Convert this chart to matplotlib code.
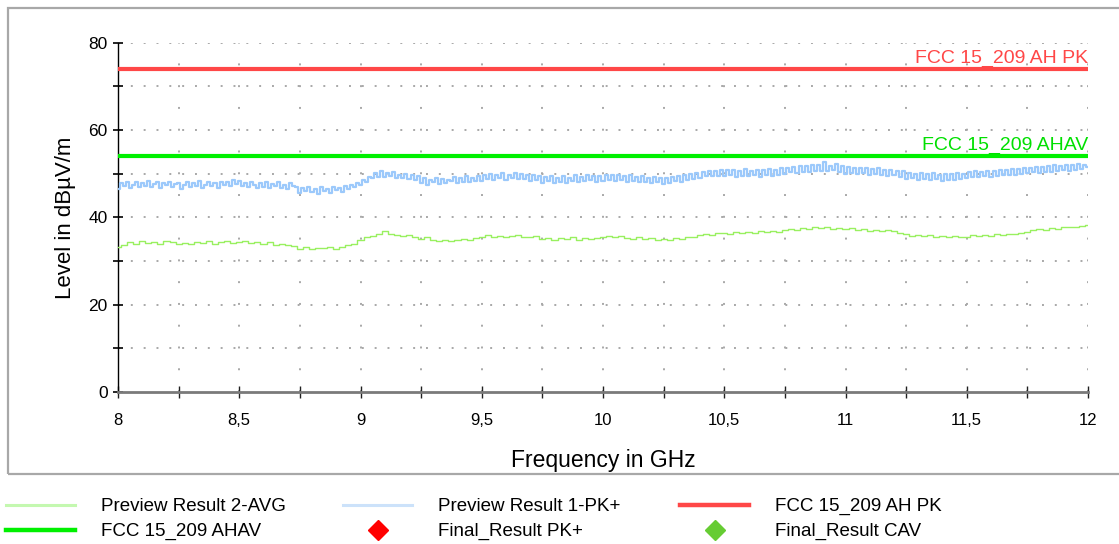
import numpy as np
import matplotlib
matplotlib.use("Agg")
import matplotlib.pyplot as plt
from matplotlib.lines import Line2D
from matplotlib.patches import Rectangle

plt.rcParams['font.family'] = ['Liberation Sans', 'DejaVu Sans']

# ---------------- data ----------------
f_start, f_stop = 8.0, 12.0

pk_values = [
    46.6, 47.9, 47.2, 48.1, 46.8, 47.5, 48.2, 46.9, 47.8, 47.1, 48.3, 47.0, 47.6, 48.0, 46.7, 47.9, 47.3, 48.2, 46.9, 47.7,
    47.9, 46.6, 47.4, 48.1, 46.9, 47.8, 47.2, 48.4, 46.7, 47.5, 48.0, 47.1, 47.8, 46.8, 48.2, 47.4, 48.0, 47.2, 48.5, 47.6,
    48.3, 47.1, 47.9, 46.9, 48.1, 47.3, 46.8, 47.9, 47.0, 48.0, 46.7, 47.6, 47.2, 48.1, 46.8, 47.5, 46.6, 47.8, 47.2, 46.9,
    45.6, 46.8, 46.1, 47.0, 45.7, 46.5, 45.4, 46.9, 46.0, 46.6, 45.5, 46.9, 46.2, 46.7, 45.8, 47.1, 46.4, 47.3, 46.9, 47.8,
    47.5, 48.6, 48.2, 49.3, 49.0, 50.1, 49.3, 50.6, 49.2, 50.2, 49.4, 50.4, 48.9, 49.8, 49.1, 50.0, 48.7, 49.6, 48.5, 49.5,
    47.8, 48.9, 47.5, 48.6, 48.1, 49.0, 47.6, 48.8, 47.9, 48.5, 48.3, 49.2, 47.8, 49.0, 48.2, 49.4, 48.0, 48.9, 48.4, 49.5,
    48.4, 49.6, 48.7, 50.0, 48.6, 49.7, 48.9, 50.2, 48.5, 49.8, 49.0, 50.1, 48.7, 49.9, 48.8, 49.6, 48.4, 49.7, 48.6, 49.4,
    47.9, 49.2, 48.3, 49.4, 47.8, 48.9, 48.2, 49.5, 47.9, 49.0, 48.4, 49.6, 48.1, 49.3, 48.3, 49.6, 48.5, 49.4, 48.2, 49.5,
    48.4, 49.8, 48.6, 49.6, 48.3, 49.7, 48.5, 49.4, 48.2, 49.6, 48.4, 49.3, 48.0, 49.4, 48.2, 49.1, 47.8, 49.2, 48.0, 49.0,
    47.6, 48.9, 47.9, 49.2, 48.3, 49.5, 48.1, 49.7, 48.6, 49.9, 48.8, 50.1, 49.1, 50.4, 49.4, 50.6, 49.5, 50.7, 49.4, 50.8,
    49.4, 50.8, 49.6, 50.9, 49.3, 50.7, 49.5, 51.0, 49.4, 50.6, 49.7, 50.9, 49.3, 50.8, 49.6, 51.1, 49.5, 50.9, 49.8, 51.2,
    50.0, 51.3, 50.3, 51.6, 50.2, 51.8, 50.5, 51.7, 50.4, 52.0, 50.6, 51.9, 50.7, 52.7, 50.6, 51.8, 50.9, 52.2, 50.5, 51.7,
    50.0, 51.5, 50.2, 51.3, 49.9, 51.4, 50.1, 51.2, 49.7, 51.0, 49.9, 51.2, 49.6, 50.9, 49.5, 50.8, 49.7, 50.7, 49.3, 50.6,
    48.8, 50.2, 48.9, 50.0, 48.6, 50.1, 48.8, 49.9, 48.5, 50.2, 48.7, 49.8, 48.4, 50.0, 48.6, 49.9, 48.5, 50.1, 48.8, 50.0,
    49.1, 50.4, 49.3, 50.6, 49.2, 50.5, 49.4, 50.7, 49.3, 50.6, 49.5, 50.9, 49.6, 50.8, 49.7, 51.0, 49.8, 51.1, 49.9, 51.2,
    50.1, 51.4, 50.3, 51.6, 50.2, 51.5, 50.4, 51.7, 50.5, 51.9, 50.6, 51.8, 50.8, 52.1, 50.7, 52.0, 50.9, 52.2, 51.0, 52.1,
    51.6,
]

avg_values = [
    33.3, 33.7, 34.3, 34.0, 34.5, 34.2, 34.4, 34.0, 34.5, 34.3,
    33.9, 34.2, 33.8, 34.4, 34.1, 34.5, 34.0, 34.3, 34.6, 34.2,
    34.3, 34.6, 34.2, 34.4, 34.0, 34.3, 33.6, 33.9, 33.7, 33.4,
    32.8, 33.1, 32.7, 33.0, 32.9, 33.2, 32.8, 33.3, 33.6, 34.0,
    34.8, 35.4, 35.8, 36.3, 36.8, 36.2, 36.0, 35.7, 35.9, 35.4,
    35.1, 35.4, 34.8, 34.6, 34.9, 34.5, 34.8, 35.1, 34.9, 35.2,
    35.5, 35.9, 35.6, 35.8, 35.5, 35.7, 35.9, 35.6, 35.4, 35.7,
    35.0, 35.3, 34.9, 35.2, 35.0, 35.4, 34.9, 35.2, 35.0, 35.3,
    35.6, 35.8, 35.5, 35.7, 35.3, 35.1, 35.4, 35.0, 35.2, 34.9,
    35.1, 34.9, 35.3, 35.0, 35.4, 35.6, 35.9, 36.2, 36.0, 36.4,
    36.5, 36.3, 36.6, 36.4, 36.7, 36.5, 36.8, 36.6, 36.9, 36.7,
    37.1, 37.4, 37.2, 37.6, 37.3, 37.8, 37.5, 37.9, 37.4, 37.6,
    37.3, 37.5, 37.1, 37.3, 36.9, 37.2, 36.8, 37.0, 36.8, 36.5,
    36.1, 35.8, 36.0, 35.7, 35.9, 35.6, 35.8, 35.5, 35.7, 35.4,
    35.6, 35.9, 35.7, 36.0, 35.8, 36.1, 36.0, 36.3, 36.1, 36.5,
    36.7, 37.0, 37.3, 37.1, 37.5, 37.4, 37.7, 37.9, 37.8, 38.1,
    38.3,
]

limit_pk = 74.0
limit_av = 54.0
limit_pk_label = "FCC 15_209 AH PK"
limit_av_label = "FCC 15_209 AHAV"

x_major = [8, 8.5, 9, 9.5, 10, 10.5, 11, 11.5, 12]
x_major_labels = ["8", "8,5", "9", "9,5", "10", "10,5", "11", "11,5", "12"]
x_minor = [8.25, 8.75, 9.25, 9.75, 10.25, 10.75, 11.25, 11.75]
y_major = [0, 20, 40, 60, 80]
y_minor = [10, 30, 50, 70]

legend_labels = ["Preview Result 2-AVG", "FCC 15_209 AHAV",
                 "Preview Result 1-PK+", "Final_Result PK+",
                 "FCC 15_209 AH PK", "Final_Result CAV"]

# ---------------- colours ----------------
c_pk_trace = "#9cc9fb"
c_avg_trace = "#99f060"
c_lim_pk = "#ff4747"
c_lim_av = "#00f000"
c_final_pk = "#ff0000"
c_final_cav = "#66cc33"

# ---------------- figure ----------------
W, H = 1119, 544
fig = plt.figure(figsize=(W / 100, H / 100), dpi=100)

# outer frame
fig.patches.append(Rectangle((7.5 / W, 1 - 474 / H), (W + 20) / W, (474 - 7.5) / H,
                             transform=fig.transFigure, fill=False,
                             edgecolor="#a8a8a8", lw=1.6, zorder=0))

ax = fig.add_axes([118 / W, 1 - 392 / H, (1088 - 118) / W, (392 - 42.7) / H])

freq_pk = np.linspace(f_start, f_stop, len(pk_values))
freq_avg = np.linspace(f_start, f_stop, len(avg_values))

ax.plot(freq_avg, avg_values, color=c_avg_trace, lw=1.0, drawstyle="steps-mid", zorder=3)
ax.plot(freq_pk, pk_values, color=c_pk_trace, lw=1.6, drawstyle="steps-mid", zorder=3)
ax.plot([f_start, f_stop], [limit_pk, limit_pk], color=c_lim_pk, lw=3.0,
        solid_capstyle="butt", zorder=4)
ax.plot([f_start, f_stop], [limit_av, limit_av], color=c_lim_av, lw=3.0,
        solid_capstyle="butt", zorder=4)
# final results (no measured points in this plot)
ax.plot([], [], ls="none", marker="D", color=c_final_pk)
ax.plot([], [], ls="none", marker="D", color=c_final_cav)

ax.annotate(limit_pk_label, xy=(f_stop, limit_pk), xytext=(0, 4.5),
            textcoords="offset points", ha="right", va="baseline",
            color=c_lim_pk, fontsize=14, zorder=6)
ax.annotate(limit_av_label, xy=(f_stop, limit_av), xytext=(0, 4.5),
            textcoords="offset points", ha="right", va="baseline",
            color="#00e000", fontsize=14, zorder=6)

ax.set_xlim(f_start, f_stop)
ax.set_ylim(0, 80)

# grid (dotted)
hgrid_kw = dict(color="#a8a8a8", lw=1.4, dashes=(1.0, 5.6), zorder=1)
vgrid_kw = dict(color="#a8a8a8", lw=1.4, dashes=(1.0, 10.2), zorder=1)
for xv in x_major[1:] + x_minor:
    ax.axvline(xv, **vgrid_kw)
for yv in y_major[1:] + y_minor:
    ax.axhline(yv, **hgrid_kw)

ax.set_xticks(x_major)
ax.set_xticklabels(x_major_labels)
ax.set_xticks(x_minor, minor=True)
ax.set_yticks(y_major)
ax.set_yticks(y_minor, minor=True)

ax.tick_params(axis="x", which="both", direction="inout", length=8, width=1,
               color="#202020", labelsize=12, pad=11)
ax.tick_params(axis="y", which="both", direction="inout", length=7, width=1.2,
               color="black", labelsize=12.5, pad=4)

for s in ["top", "right"]:
    ax.spines[s].set_visible(False)
ax.spines["left"].set_color("black")
ax.spines["left"].set_linewidth(1.0)
ax.spines["bottom"].set_color("#7a7a7a")
ax.spines["bottom"].set_linewidth(2.0)

ax.set_xlabel("Frequency in GHz", fontsize=16.5, labelpad=15)
ax.set_ylabel("Level in dBµV/m", fontsize=16, labelpad=9)

# ---------------- legend ----------------
handles = [
    Line2D([], [], color="#c4f8b0", lw=2.2),
    Line2D([], [], color=c_lim_av, lw=3.2),
    Line2D([], [], color="#cce2fa", lw=2.2),
    Line2D([], [], ls="none", marker="D", markersize=10, color=c_final_pk),
    Line2D([], [], color=c_lim_pk, lw=3.2),
    Line2D([], [], ls="none", marker="D", markersize=10, color=c_final_cav),
]
col_x = [6, 343, 680]
for ci in range(3):
    leg = fig.legend(handles[2 * ci:2 * ci + 2], legend_labels[2 * ci:2 * ci + 2],
                     loc="upper left",
                     bbox_to_anchor=(col_x[ci] / W, 1 - 498 / H),
                     frameon=False, fontsize=13.5, handlelength=3.7,
                     handletextpad=1.35, labelspacing=0.42,
                     borderaxespad=0, borderpad=0)

fig.savefig("out.png", dpi=100, facecolor="white")
